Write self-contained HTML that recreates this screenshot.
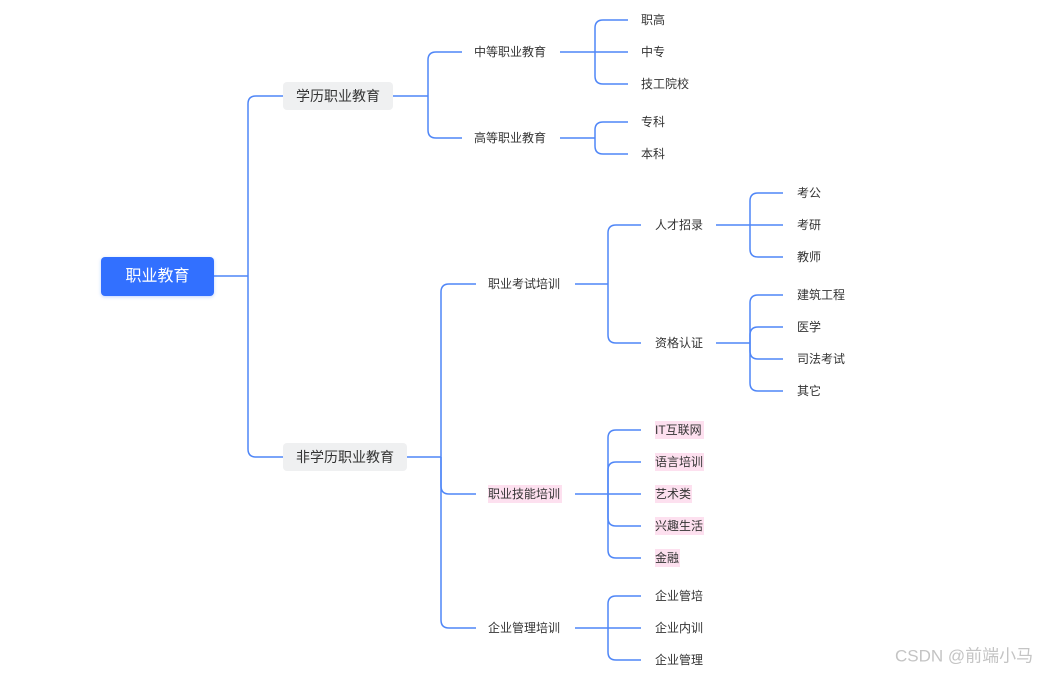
<!DOCTYPE html>
<html><head><meta charset="utf-8"><style>
html,body{margin:0;padding:0;background:#fff;}
svg{display:block;}
text{font-family:"Liberation Sans","Noto Sans CJK SC",sans-serif;fill:#333;dominant-baseline:central;}
.s{font-size:12px;}
.l1{font-size:14px;}
</style></head><body>
<svg width="1059" height="673" viewBox="0 0 1059 673" xmlns="http://www.w3.org/2000/svg">
<defs><filter id="sh" x="-20%" y="-30%" width="140%" height="160%"><feDropShadow dx="0" dy="1" stdDeviation="1.5" flood-color="#3370ff" flood-opacity="0.3"/></filter></defs>
<g fill="none" stroke="#4f86f7" stroke-width="1.5">
<!-- root -->
<path d="M214 276 H248"/>
<path d="M248 276 V104 Q248 96 256 96 H283"/>
<path d="M248 276 V449 Q248 457 256 457 H283"/>
<!-- 学历 -->
<path d="M393 96 H428"/>
<path d="M428 96 V60 Q428 52 436 52 H462"/>
<path d="M428 96 V130 Q428 138 436 138 H462"/>
<!-- 中等 -->
<path d="M560 52 H595"/>
<path d="M595 52 V28 Q595 20 603 20 H628"/>
<path d="M595 52 H628"/>
<path d="M595 52 V76 Q595 84 603 84 H628"/>
<!-- 高等 -->
<path d="M560 138 H595"/>
<path d="M595 138 V130 Q595 122 603 122 H628"/>
<path d="M595 138 V146 Q595 154 603 154 H628"/>
<!-- 非学历 -->
<path d="M407 457 H441"/>
<path d="M441 457 V292 Q441 284 449 284 H476"/>
<path d="M441 457 V486 Q441 494 449 494 H476"/>
<path d="M441 457 V620 Q441 628 449 628 H476"/>
<!-- 考试 -->
<path d="M575 284 H608"/>
<path d="M608 284 V233 Q608 225 616 225 H641"/>
<path d="M608 284 V335 Q608 343 616 343 H641"/>
<!-- 人才 -->
<path d="M716 225 H750"/>
<path d="M750 225 V201 Q750 193 758 193 H783"/>
<path d="M750 225 H783"/>
<path d="M750 225 V249 Q750 257 758 257 H783"/>
<!-- 资格 -->
<path d="M716 343 H750"/>
<path d="M750 343 V303 Q750 295 758 295 H783"/>
<path d="M750 343 V335 Q750 327 758 327 H783"/>
<path d="M750 343 V351 Q750 359 758 359 H783"/>
<path d="M750 343 V383 Q750 391 758 391 H783"/>
<!-- 技能 -->
<path d="M575 494 H608"/>
<path d="M608 494 V438 Q608 430 616 430 H641"/>
<path d="M608 494 V470 Q608 462 616 462 H641"/>
<path d="M608 494 H641"/>
<path d="M608 494 V518 Q608 526 616 526 H641"/>
<path d="M608 494 V550 Q608 558 616 558 H641"/>
<!-- 管理 -->
<path d="M575 628 H608"/>
<path d="M608 628 V604 Q608 596 616 596 H641"/>
<path d="M608 628 H641"/>
<path d="M608 628 V652 Q608 660 616 660 H641"/>
</g>
<!-- root node -->
<rect x="101" y="257" width="113" height="39" rx="4" fill="#3370ff" filter="url(#sh)"/>
<text x="157.5" y="276.5" text-anchor="middle" style="font-size:16px;fill:#fff">职业教育</text>
<!-- L1 -->
<rect x="283" y="82" width="110" height="28" rx="4" fill="#eff0f1"/>
<text class="l1" x="338" y="96" text-anchor="middle">学历职业教育</text>
<rect x="283" y="443" width="124" height="28" rx="4" fill="#eff0f1"/>
<text class="l1" x="345" y="457" text-anchor="middle">非学历职业教育</text>
<!-- L2 -->
<text class="s" x="474" y="52">中等职业教育</text>
<text class="s" x="474" y="138">高等职业教育</text>
<text class="s" x="641" y="20">职高</text>
<text class="s" x="641" y="52">中专</text>
<text class="s" x="641" y="84">技工院校</text>
<text class="s" x="641" y="122">专科</text>
<text class="s" x="641" y="154">本科</text>
<text class="s" x="488" y="284">职业考试培训</text>
<rect x="488" y="485" width="74" height="18" fill="#fde0ef"/>
<text class="s" x="488" y="494">职业技能培训</text>
<text class="s" x="488" y="628">企业管理培训</text>
<text class="s" x="655" y="225">人才招录</text>
<text class="s" x="655" y="343">资格认证</text>
<text class="s" x="797" y="193">考公</text>
<text class="s" x="797" y="225">考研</text>
<text class="s" x="797" y="257">教师</text>
<text class="s" x="797" y="295">建筑工程</text>
<text class="s" x="797" y="327">医学</text>
<text class="s" x="797" y="359">司法考试</text>
<text class="s" x="797" y="391">其它</text>
<g fill="#fde0ef">
<rect x="655" y="421" width="49" height="18"/>
<rect x="655" y="453" width="49" height="18"/>
<rect x="655" y="485" width="37" height="18"/>
<rect x="655" y="517" width="49" height="18"/>
<rect x="655" y="549" width="25" height="18"/>
</g>
<text class="s" x="655" y="430">IT互联网</text>
<text class="s" x="655" y="462">语言培训</text>
<text class="s" x="655" y="494">艺术类</text>
<text class="s" x="655" y="526">兴趣生活</text>
<text class="s" x="655" y="558">金融</text>
<text class="s" x="655" y="596">企业管培</text>
<text class="s" x="655" y="628">企业内训</text>
<text class="s" x="655" y="660">企业管理</text>
<text x="895" y="656" style="font-size:17px;fill:#c4c4c4">CSDN @前端小马</text>
</svg>
</body></html>
